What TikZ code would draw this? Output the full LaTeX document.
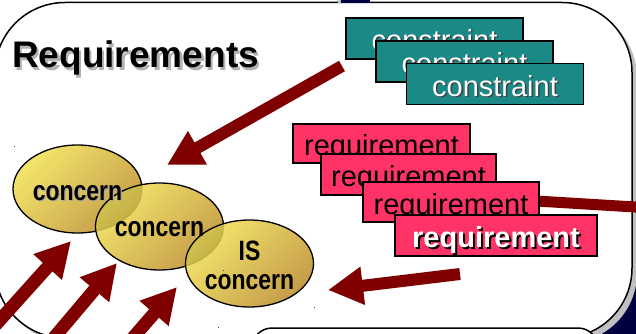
\documentclass[tikz,border=0pt]{standalone}
\usepackage{fontspec}
\setmainfont{Liberation Sans}
\usetikzlibrary{arrows.meta,shapes.geometric,calc}
\definecolor{arrowred}{HTML}{800000}
\definecolor{teal1}{HTML}{1B8A87}
\definecolor{pink1}{HTML}{FF3366}
\definecolor{goldA}{HTML}{F2E35C}
\definecolor{goldB}{HTML}{C09236}
\definecolor{navy1}{HTML}{000040}
\definecolor{shadowgray}{HTML}{C0C0C0}
\newcommand{\shtxt}[4]{\rlap{\kern#4\raisebox{-#4}{\textcolor{#1}{#3}}}\textcolor{#2}{#3}}
\begin{document}
\begin{tikzpicture}[x=1pt,y=-1pt,
  cbox/.style={draw=black, line width=1.2pt, fill=teal1, minimum width=177pt, minimum height=41pt, inner sep=0pt, text height=24pt, text depth=0pt, font=\fontsize{29}{29}\selectfont},
  rbox/.style={draw=black, line width=1.2pt, fill=pink1, minimum width=176pt, minimum height=40pt, inner sep=0pt, text height=24pt, text depth=0pt, font=\fontsize{29}{29}\selectfont},
  concern/.style={ellipse, draw=black, line width=1.3pt, top color=goldA, bottom color=goldB, shading angle=45, fill opacity=0.9, draw opacity=1, minimum width=128pt, minimum height=87pt, inner sep=0pt},
  ctext/.style={anchor=base, inner sep=0pt, font=\fontsize{28}{29}\selectfont\bfseries},
  bigarrow/.style={draw=arrowred, line width=12pt, -{Triangle[length=35pt,width=36pt]}},
  dot/.style={fill=black!70},
  overlap/.style={fill=black, fill opacity=0.13},
]
\useasboundingbox (0,0) rectangle (636,334);
% background pieces
\fill[navy1] (590,280) rectangle (636,334);
% main panel with shadow
\fill[shadowgray, rounded corners=70pt] (0,7.5) rectangle (637,343);
\draw[fill=white, line width=1.5pt, rounded corners=70pt] (-5,2.5) rectangle (632,338);
\fill[shadowgray] (338,0) rectangle (341,3.5);
\fill[navy1] (341,0) rectangle (370,3.5);
% lower panel
\draw[fill=white, line width=1.5pt, rounded corners=20pt] (252,328) rectangle (598,400);
% title
\node[anchor=base west, inner sep=0pt, font=\fontsize{37}{37}\selectfont\bfseries] (title) at (12,68) {\shtxt{black!30}{black}{Requirements}{2.2pt}};
% arrow coordinates
\coordinate (a1s) at (342,66);  \coordinate (a1e) at (167,165);
\coordinate (a2s) at (495,198.5); \coordinate (a2e) at (645,207.6);
\coordinate (a3s) at (460,274); \coordinate (a3e) at (328,290);
\coordinate (a4s) at (-18,340); \coordinate (a4e) at (71,241);
\coordinate (a5s) at (52,340);  \coordinate (a5e) at (117,263);
\coordinate (a6s) at (131,340); \coordinate (a6e) at (177,287);
\draw[bigarrow] (a1s) -- (a1e);
\draw[draw=arrowred, line width=11pt] (a2s) -- (a2e);
% constraints
\node[cbox] (c1) at (434.5,38.5) {\shtxt{black!75}{white}{constraint}{1.5pt}};
\node[cbox] (c2) at (464.5,61.5) {\shtxt{black!75}{white}{constraint}{1.5pt}};
\node[cbox] (c3) at (495,84) {\shtxt{black!75}{white}{constraint}{1.5pt}};
% requirements
\node[rbox, minimum width=177pt, minimum height=39pt] (r1) at (381.5,143.5) {requirement};
\node[rbox, minimum width=175pt, minimum height=41pt] (r2) at (408.5,174.5) {requirement};
\node[rbox] (r3) at (451,202) {requirement};
\node[rbox, minimum width=202pt, minimum height=41pt] (r4) at (496,235.5) {\bfseries\shtxt{black}{white}{requirement}{2pt}};
% concerns
\node[concern, minimum width=129pt, minimum height=88pt] (e1) at (77.5,189) {};
\node[concern] (e2) at (159.5,226.5) {};
\begin{scope}
  \clip (e1.center) ellipse [x radius=64.5pt, y radius=44pt];
  \fill[overlap] (e2.center) ellipse [x radius=63pt, y radius=43pt];
\end{scope}
\node[concern] (e3) at (249.5,263.5) {};
\begin{scope}
  \clip (e2.center) ellipse [x radius=64pt, y radius=43.5pt];
  \fill[overlap] (e3.center) ellipse [x radius=63pt, y radius=43pt];
\end{scope}
\node[ctext] at ([yshift=-11pt]e1.center) {\scalebox{0.82}[1]{\shtxt{black!35}{black}{concern}{1.5pt}}};
\node[ctext] at ([yshift=-9.5pt]e2.center) {\scalebox{0.82}[1]{concern}};
\node[ctext] at ([yshift=3.5pt]e3.center) {\scalebox{0.82}[1]{IS}};
\node[ctext] at ([yshift=-25.5pt]e3.center) {\scalebox{0.82}[1]{concern}};
% arrows into concerns
\draw[bigarrow] (a3s) -- (a3e);
\draw[bigarrow, line width=13pt] (a4s) -- (a4e);
\draw[bigarrow, line width=13pt] (a5s) -- (a5e);
\draw[bigarrow, line width=13pt] (a6s) -- (a6e);
% small marks
\fill[dot] (13.5,145.5) rectangle ++(1.2,1.2);
\fill[dot] (313.5,306.5) rectangle ++(1.2,1.2);
\fill[dot] (217.5,326.5) rectangle ++(1.2,1.2);
\fill[dot] (222.5,269.5) rectangle ++(1.2,1.2);
\end{tikzpicture}
\end{document}
